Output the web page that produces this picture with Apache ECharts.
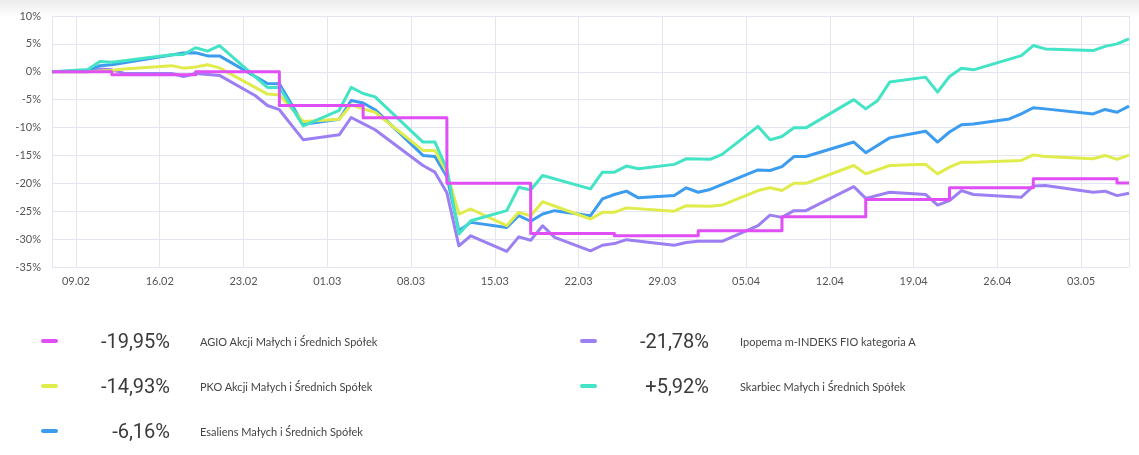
<!DOCTYPE html>
<html>
<head>
<meta charset="utf-8">
<script src="https://cdn.jsdelivr.net/npm/echarts@6/dist/echarts.min.js"></script>
<style>
html,body{margin:0;padding:0;background:#fff;}
#wrap{position:relative;width:1139px;height:455px;overflow:hidden;background:#fff;}
#shade{position:absolute;left:0;top:0;width:1139px;height:18px;background:linear-gradient(#ececec,#ffffff);}
#chart{position:absolute;left:0;top:0;width:1139px;height:455px;}
.sw{position:absolute;width:17px;height:4px;border-radius:2px;}
.val{position:absolute;width:140px;text-align:right;font-family:Roboto,Lato,sans-serif;font-weight:400;font-size:20px;color:#3a3a3a;line-height:24px;white-space:nowrap;}
.nm{position:absolute;font-family:Lato,"Open Sans",sans-serif;font-size:11px;color:#444;line-height:14px;white-space:nowrap;}
</style>
</head>
<body>
<div id="wrap">
  <div id="shade"></div>
  <div id="chart"></div>
  <div id="legend"></div>
</div>
<script>
// x values are days counted from the left edge of the chart (day 0)
const tickLabels = ['09.02','16.02','23.02','01.03','08.03','15.03','22.03','29.03','05.04','12.04','19.04','26.04','03.05'];
const firstTickDay = 2, tickStep = 7, lastDay = 90;

const seriesNames = [
  'AGIO Akcji Małych i Średnich Spółek',
  'PKO Akcji Małych i Średnich Spółek',
  'Esaliens Małych i Średnich Spółek',
  'Ipopema m-INDEKS FIO kategoria A',
  'Skarbiec Małych i Średnich Spółek'
];

const agioDay = [0, 5, 12, 19, 26, 33, 40, 47, 54, 61, 68, 75, 82, 89, 90];
const agioVal = [0, -0.55, 0, -6.05, -8.25, -20.0, -29.0, -29.4, -28.5, -26.0, -22.9, -20.8, -19.2, -19.95, -19.95];

const pkoDay = [0,3,5,6,10,11,12,13,14,18,19,21,24,25,26,27,31,32,33,34,35,38,39,40,41,45,46,47,48,52,53,55,56,59,60,61,62,63,67,68,70,73,74,75,76,77,81,82,83,87,88,89,90];
const pkoVal = [0,0,0.25,0.5,1.1,0.65,0.85,1.25,0.7,-4.0,-4.15,-8.9,-8.5,-5.9,-6.65,-7.25,-14.1,-14.1,-18.0,-25.5,-24.6,-27.6,-25.2,-25.8,-23.3,-26.4,-25.2,-25.2,-24.4,-25.0,-24.0,-24.1,-23.9,-21.3,-20.8,-21.3,-20.0,-20.0,-16.8,-18.3,-16.8,-16.6,-18.3,-17.1,-16.2,-16.2,-15.9,-14.9,-15.2,-15.6,-15.0,-15.7,-14.93];

const esaliensDay = [0,3,4,5,11,12,13,14,18,19,21,24,25,26,27,31,32,33,34,35,38,39,40,41,42,45,46,47,48,49,52,53,54,55,59,60,61,62,63,67,68,70,73,74,75,76,77,80,81,82,83,87,88,89,90];
const esaliensVal = [0,0.2,1.1,1.25,3.35,3.4,2.85,2.85,-2.1,-2.15,-9.4,-8.5,-5.15,-5.6,-6.8,-15.0,-15.2,-18.8,-28.5,-27.0,-27.9,-25.8,-26.8,-25.5,-24.9,-25.8,-22.8,-22.0,-21.4,-22.6,-22.2,-20.8,-21.6,-21.1,-17.6,-17.7,-17.0,-15.2,-15.2,-12.6,-14.5,-11.85,-10.65,-12.6,-10.8,-9.5,-9.35,-8.45,-7.55,-6.45,-6.65,-7.55,-6.75,-7.25,-6.16];

const ipopemaDay = [0,3,4,5,6,10,11,12,14,17,18,19,21,24,25,26,27,31,32,33,34,35,38,39,40,41,42,45,46,47,48,52,53,54,56,59,60,61,62,63,67,68,70,73,74,75,76,77,81,82,83,87,88,89,90];
const ipopemaVal = [0,0,0.5,0.35,-0.25,-0.3,-0.85,-0.3,-0.65,-4.3,-6.05,-6.8,-12.2,-11.3,-8.2,-9.3,-10.4,-16.8,-18.0,-21.7,-31.2,-29.4,-32.2,-29.6,-30.2,-27.6,-29.7,-32.1,-31.1,-30.8,-30.1,-31.1,-30.6,-30.4,-30.4,-27.6,-25.7,-26.1,-24.9,-24.9,-20.6,-22.7,-21.6,-22.0,-23.9,-23.1,-21.3,-22.0,-22.5,-20.5,-20.4,-21.6,-21.4,-22.2,-21.78];

const skarbiecDay = [0,3,4,5,10,11,12,13,14,18,19,21,24,25,26,27,31,32,33,34,35,38,39,40,41,45,46,47,48,49,52,53,55,56,59,60,61,62,63,67,68,69,70,73,74,75,76,77,81,82,83,87,88,89,90];
const skarbiecVal = [0,0.4,1.85,1.7,3.05,3.1,4.3,3.7,4.7,-2.8,-2.8,-9.7,-6.9,-2.8,-3.9,-4.5,-12.6,-12.6,-17.4,-29.1,-26.7,-24.9,-20.7,-21.2,-18.6,-21.0,-18.0,-18.0,-16.9,-17.4,-16.6,-15.6,-15.7,-14.8,-9.8,-12.2,-11.6,-10.05,-10.05,-5.0,-6.65,-5.15,-1.85,-0.96,-3.65,-0.85,0.65,0.35,2.9,4.7,4.1,3.8,4.55,5.0,5.92];

const yMin = -35, yMax = 10, yStep = 5;

const colors = ['#e04ef5', '#dfec4c', '#3c9cef', '#9c80f3', '#43e3c5'];
const days = [agioDay, pkoDay, esaliensDay, ipopemaDay, skarbiecDay];
const vals = [agioVal, pkoVal, esaliensVal, ipopemaVal, skarbiecVal];

function pairs(d, v) { return d.map((x, i) => [x, v[i]]); }

const dayCats = [];
for (let i = 0; i <= lastDay; i++) dayCats.push(String(i));
const isTick = i => i >= firstTickDay && (i - firstTickDay) % tickStep === 0;

const drawOrder = [3, 2, 1, 4, 0];
const series = drawOrder.map(k => ({
  name: seriesNames[k],
  type: 'line',
  xAxisIndex: 0,
  yAxisIndex: 0,
  data: pairs(days[k], vals[k]),
  step: k === 0 ? 'end' : false,
  showSymbol: false,
  symbol: 'none',
  lineStyle: { width: 3, color: colors[k], join: 'round' },
  itemStyle: { color: colors[k] },
  z: 2 + drawOrder.indexOf(k)
}));

const chart = echarts.init(document.getElementById('chart'), null, { renderer: 'canvas' });
chart.setOption({
  animation: false,
  backgroundColor: 'transparent',
  grid: { left: 52, right: 10, top: 16, bottom: 188, containLabel: false },
  xAxis: [
    { type: 'value', min: 0, max: lastDay, show: false },
    {
      type: 'category', data: dayCats, boundaryGap: false, position: 'bottom',
      axisLine: { show: false }, axisTick: { show: false },
      axisLabel: {
        interval: (i) => isTick(i),
        formatter: (v) => { const i = +v; return isTick(i) ? tickLabels[(i - firstTickDay) / tickStep] : ''; },
        color: '#555', fontSize: 11, margin: 9, fontFamily: 'Lato, "Open Sans", sans-serif'
      },
      splitLine: { show: true, interval: (i) => i === 0 || i === lastDay || isTick(i), lineStyle: { color: '#e3e6ee', width: 1 } }
    }
  ],
  yAxis: {
    type: 'value', min: yMin, max: yMax, interval: yStep,
    axisLine: { show: false }, axisTick: { show: false },
    axisLabel: { formatter: '{value}%', color: '#555', fontSize: 11, margin: 11, fontFamily: 'Lato, "Open Sans", sans-serif' },
    splitLine: { lineStyle: { color: '#e3e6ee', width: 1 } }
  },
  series: series
});

// custom legend with last values
const legendPos = [
  { sx: 41, vr: 170, nx: 200, y: 341 },
  { sx: 41, vr: 170, nx: 200, y: 386 },
  { sx: 41, vr: 170, nx: 200, y: 431 },
  { sx: 580, vr: 709, nx: 740, y: 341 },
  { sx: 580, vr: 709, nx: 740, y: 386 }
];
const lg = document.getElementById('legend');
function fmt(v) { return (v > 0 ? '+' : '') + v.toFixed(2).replace('.', ',') + '%'; }
seriesNames.forEach((name, k) => {
  const p = legendPos[k];
  const last = vals[k][vals[k].length - 1];
  const sw = document.createElement('div');
  sw.className = 'sw'; sw.style.left = p.sx + 'px'; sw.style.top = (p.y - 2) + 'px'; sw.style.background = colors[k];
  const vd = document.createElement('div');
  vd.className = 'val'; vd.style.left = (p.vr - 140) + 'px'; vd.style.top = (p.y - 12) + 'px'; vd.textContent = fmt(last);
  const nd = document.createElement('div');
  nd.className = 'nm'; nd.style.left = p.nx + 'px'; nd.style.top = (p.y - 6) + 'px'; nd.textContent = name;
  lg.appendChild(sw); lg.appendChild(vd); lg.appendChild(nd);
});
</script>
</body>
</html>
